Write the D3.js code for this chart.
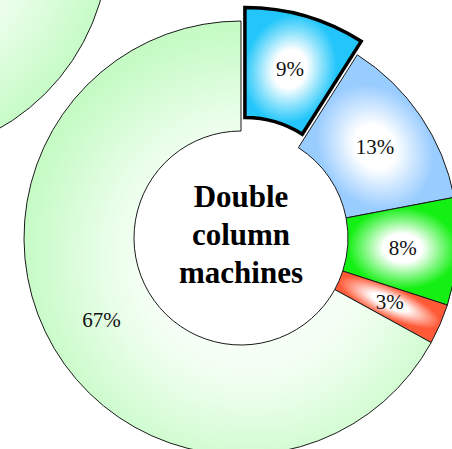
<!DOCTYPE html>
<html>
<head>
<meta charset="utf-8">
<script src="https://cdn.jsdelivr.net/npm/d3@7/dist/d3.min.js"></script>
<style>
  html, body { margin: 0; padding: 0; background: #fff; }
  svg { display: block; }
</style>
</head>
<body>
<script>
// Share of each segment, clockwise from 12 o'clock
const shares = [9, 13, 8, 3, 67];
const shareLabels = ["9%", "13%", "8%", "3%", "67%"];
const edgeColours = ["#22c6fa", "#99ccff", "#14f014", "#ff5a38", "#c6fbc6"];
const explodedIndex = 0;
const centreTitle = ["Double", "column", "machines"];

const W = 452, H = 449;
const cx = 241, cy = 238;
const rInner = 107, rOuter = 217;
const explodeBy = 14;

const svg = d3.select("body").append("svg")
  .attr("width", W).attr("height", H);

const defs = svg.append("defs");

const pie = d3.pie().sort(null).value(d => d)
  .startAngle(0).endAngle(2 * Math.PI);
const arcs = pie(shares);
const arc = d3.arc().innerRadius(rInner).outerRadius(rOuter);

// Pale ring shading: near-white toward the hole, green at the rim
function ringStops(g) {
  g.append("stop").attr("offset", "0.45").attr("stop-color", "#f6fff6");
  g.append("stop").attr("offset", "0.62").attr("stop-color", "#eafeea");
  g.append("stop").attr("offset", "1").attr("stop-color", edgeColours[4]);
}
defs.append("radialGradient").attr("id", "ringShade")
  .attr("cx", "50%").attr("cy", "50%").attr("r", "50%")
  .call(ringStops);

// Neighbouring ring peeking in at the top-left corner
const neighbour = svg.append("g").attr("transform", "translate(-108,-60)");
neighbour.append("path")
  .attr("d", d3.arc().innerRadius(rInner).outerRadius(rOuter)
    .startAngle(0).endAngle(2 * Math.PI)())
  .attr("fill", "url(#ringShade)")
  .attr("stroke", "#1a1a1a").attr("stroke-width", 1);

const chart = svg.append("g").attr("transform", `translate(${cx},${cy})`);

// One shaded fill per small slice: white in the middle, colour toward the edges.
// Coordinates are in each slice group's own space (the exploded slice's
// offset comes from its group transform).
arcs.forEach((a, i) => {
  if (i === 4) return;
  const mid = (a.startAngle + a.endAngle) / 2;
  const [px, py] = arc.centroid(a);
  const rMid = (rInner + rOuter) / 2;
  const halfT = (a.endAngle - a.startAngle) * rMid / 2;
  const halfR = (rOuter - rInner) / 2;
  const g = defs.append("radialGradient").attr("id", "shade" + i)
    .attr("gradientUnits", "userSpaceOnUse")
    .attr("cx", 0).attr("cy", 0).attr("r", 1)
    .attr("gradientTransform",
      `translate(${px},${py}) rotate(${mid * 180 / Math.PI}) scale(${halfT},${halfR})`);
  g.append("stop").attr("offset", "0").attr("stop-color", "#ffffff");
  g.append("stop").attr("offset", "0.35").attr("stop-color", "#ffffff");
  g.append("stop").attr("offset", "0.7").attr("stop-color",
    d3.interpolateRgb("#ffffff", edgeColours[i])(0.55));
  g.append("stop").attr("offset", "1").attr("stop-color", edgeColours[i]);
});

defs.append("radialGradient").attr("id", "shade4")
  .attr("gradientUnits", "userSpaceOnUse")
  .attr("cx", 10).attr("cy", 20).attr("r", rOuter + 10)
  .call(ringStops);

const order = arcs.map((a, i) => i).filter(i => i !== explodedIndex).concat([explodedIndex]);

const slices = chart.selectAll("g.slice")
  .data(order.map(i => ({ a: arcs[i], i })))
  .join("g").attr("class", "slice")
  .attr("transform", d => {
    if (d.i !== explodedIndex) return null;
    const mid = (d.a.startAngle + d.a.endAngle) / 2;
    return `translate(${explodeBy * Math.sin(mid)},${-explodeBy * Math.cos(mid)})`;
  });

slices.append("path")
  .attr("d", d => arc(d.a))
  .attr("fill", d => `url(#shade${d.i})`)
  .attr("stroke", d => d.i === explodedIndex ? "#000" : "#1a1a1a")
  .attr("stroke-width", d => d.i === explodedIndex ? 3.5 : 1)
  .attr("stroke-linejoin", "miter");

slices.append("text")
  .attr("transform", d => `translate(${arc.centroid(d.a)})`)
  .attr("text-anchor", "middle")
  .attr("dy", "0.33em")
  .attr("font-family", "'Liberation Serif', 'Times New Roman', serif")
  .attr("font-size", 21)
  .attr("fill", "#111")
  .text(d => shareLabels[d.i]);

// Title in the hole
const title = chart.append("text")
  .attr("text-anchor", "middle")
  .attr("font-family", "'Liberation Serif', 'Times New Roman', serif")
  .attr("font-weight", "bold")
  .attr("font-size", 31)
  .attr("fill", "#000");
centreTitle.forEach((t, k) => {
  title.append("tspan").attr("x", 0).attr("y", -31 + k * 38).text(t);
});
</script>
</body>
</html>
